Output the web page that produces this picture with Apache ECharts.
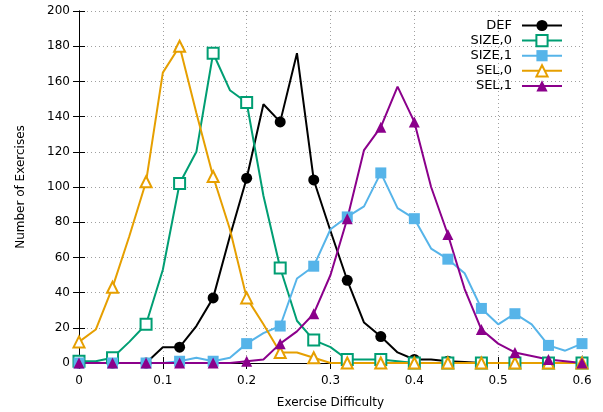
<!DOCTYPE html>
<html>
<head>
<meta charset="utf-8">
<script src="https://cdn.jsdelivr.net/npm/echarts@6/dist/echarts.min.js"></script>
<style>
  html, body { margin: 0; padding: 0; background: #fff; }
  #chart { width: 603px; height: 412px; }
</style>
</head>
<body>
<div id="chart"></div>
<script>
// exercise difficulty, one bin every 0.02
var difficulty = [0, 0.02, 0.04, 0.06, 0.08, 0.1, 0.12, 0.14, 0.16, 0.18, 0.2,
  0.22, 0.24, 0.26, 0.28, 0.3, 0.32, 0.34, 0.36, 0.38, 0.4,
  0.42, 0.44, 0.46, 0.48, 0.5, 0.52, 0.54, 0.56, 0.58, 0.6];

var defVals   = [0, 0, 0, 0, 0, 9, 9, 21, 37, 72, 105, 147, 137, 176, 104, 75, 47, 23, 15, 6, 2, 2, 1, 0.5, 0, 0, 0, 0, 0, 0, 0];
var size0Vals = [1, 1, 3, 12, 22, 53, 102, 120, 176, 155, 148, 95, 54, 24, 13, 9, 2, 2, 2, 1, 0, 0, 0, 0, 0, 0, 0, 0, 0, 0, 0];
var size1Vals = [0, 0, 0, 0, 0, 0, 1, 3, 1, 3, 11, 17, 21, 48, 55, 76, 83, 89, 108, 88, 82, 65, 59, 51, 31, 22, 28, 22, 10, 7, 11];
var sel0Vals  = [12, 19, 43, 72, 103, 165, 180, 142, 106, 76, 37, 22, 6, 6, 3, 0, 0, 0, 0, 0, 0, 0, 0, 0, 0, 0, 0, 0, 0, 0, 0];
var sel1Vals  = [0, 0, 0, 0, 0, 0, 0, 0, 0, 0, 1, 2, 11, 18, 28, 50, 82, 121, 134, 157, 137, 100, 73, 42, 19, 11, 6, 4, 2, 1, 0];

var seriesNames = ['DEF', 'SIZE,0', 'SIZE,1', 'SEL,0', 'SEL,1'];
var seriesColors = ['#000000', '#009e73', '#56b4e9', '#e69f00', '#8b008b'];
var seriesSymbols = ['circle', 'emptyRect', 'rect', 'emptyTriangle', 'triangle'];
var seriesValues = [defVals, size0Vals, size1Vals, sel0Vals, sel1Vals];

var font = 'DejaVu Sans';

// points every 0.02, marker on every second one
function makeData(vals) {
  var out = [];
  for (var i = 0; i < vals.length; i++) {
    var item = { value: [difficulty[i], vals[i]] };
    if (i % 2 == 1) item.symbol = 'none';
    out.push(item);
  }
  return out;
}

var series = [];
for (var k = 0; k < seriesNames.length; k++) {
  series.push({
    name: seriesNames[k],
    type: 'line',
    data: makeData(seriesValues[k]),
    symbol: seriesSymbols[k],
    symbolSize: 11,
    showAllSymbol: true,
    color: seriesColors[k],
    lineStyle: { width: 2, color: seriesColors[k] },
    itemStyle: { color: seriesColors[k], borderWidth: 2 },
    emphasis: { disabled: true },
    animation: false
  });
}

var gridLine = { show: true, lineStyle: { color: '#a0a0a0', width: 1, type: [1, 3] } };

echarts.init(document.getElementById('chart')).setOption({
  backgroundColor: '#fff',
  grid: { left: 79, right: 21, top: 11, bottom: 49, outerBoundsMode: 'none' },
  legend: {
    orient: 'vertical',
    right: 40,
    top: 19,
    padding: 0,
    align: 'right',
    itemWidth: 40,
    itemHeight: 14,
    itemGap: 2,
    textStyle: { fontFamily: font, fontSize: 13, color: '#000', padding: [0, 5, 0, 0] },
    data: seriesNames
  },
  xAxis: [{
    type: 'value',
    min: 0, max: 0.6, interval: 0.1,
    name: 'Exercise Difficulty',
    nameLocation: 'middle',
    nameGap: 34,
    nameTextStyle: { fontFamily: font, fontSize: 12, color: '#000' },
    axisLine: { show: true, onZero: false, lineStyle: { color: '#000', width: 1 } },
    axisTick: { show: true, inside: true, length: 6, lineStyle: { color: '#000' } },
    axisLabel: { fontFamily: font, fontSize: 12, color: '#000', margin: 12 },
    splitLine: gridLine
  }, {
    type: 'value',
    position: 'top',
    min: 0, max: 0.6, interval: 0.1,
    axisLine: { show: true, lineStyle: { color: '#000', width: 1 } },
    axisTick: { show: true, inside: true, length: 6, lineStyle: { color: '#000' } },
    axisLabel: { show: false },
    splitLine: { show: false }
  }],
  yAxis: [{
    type: 'value',
    min: 0, max: 200, interval: 20,
    name: 'Number of Exercises',
    nameLocation: 'middle',
    nameGap: 52,
    nameTextStyle: { fontFamily: font, fontSize: 12, color: '#000' },
    axisLine: { show: true, onZero: false, lineStyle: { color: '#000', width: 1 } },
    axisTick: { show: true, inside: true, length: 6, lineStyle: { color: '#000' } },
    axisLabel: { fontFamily: font, fontSize: 12, color: '#000', margin: 9 },
    splitLine: gridLine
  }, {
    type: 'value',
    position: 'right',
    min: 0, max: 200, interval: 20,
    axisLine: { show: true, lineStyle: { color: '#000', width: 1 } },
    axisTick: { show: true, inside: true, length: 6, lineStyle: { color: '#000' } },
    axisLabel: { show: false },
    splitLine: { show: false }
  }],
  series: series
});
</script>
</body>
</html>
